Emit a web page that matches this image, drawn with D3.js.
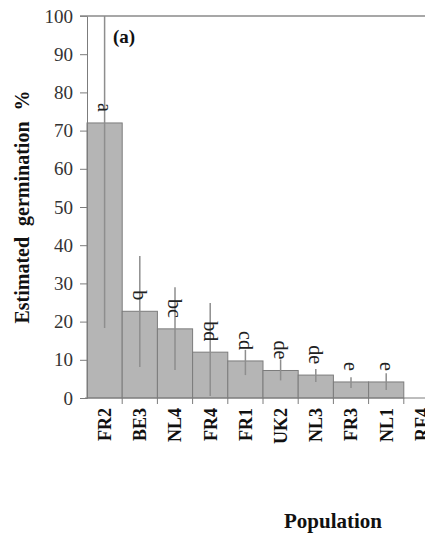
<!DOCTYPE html>
<html>
<head>
<meta charset="utf-8">
<script src="https://cdn.jsdelivr.net/npm/d3@7/dist/d3.min.js"></script>
<style>
  html, body { margin: 0; padding: 0; background: #fff; }
  svg { display: block; }
</style>
</head>
<body>
<svg id="chart" width="425" height="533"></svg>
<script>
// Estimated germination per population, with error bars and significance letters
const populations = ["FR2", "BE3", "NL4", "FR4", "FR1", "UK2", "NL3", "FR3", "NL1", "RF4"];
const germination = [72.0, 22.7, 18.1, 12.0, 9.7, 7.2, 6.0, 4.2, 4.2, 0];
const errLow      = [18.3, 8.1, 7.3, 0.5, 6.0, 4.6, 4.2, 2.6, 2.1, 0];
const errHigh     = [100, 37.2, 29.0, 24.9, 12.6, 10.1, 7.6, 5.4, 6.5, 0];
const groupLetters = ["a", "b", "bc", "bd", "cd", "de", "de", "e", "e", ""];
const yTicks = [0, 10, 20, 30, 40, 50, 60, 70, 80, 90, 100];

const svg = d3.select("#chart");
const W = 425;
const serif = "'Liberation Serif', 'Times New Roman', serif";

const y = d3.scaleLinear().domain([0, 100]).range([398, 16]);
const x = d3.scaleBand().domain(populations).range([87, 439]).padding(0);

const rows = populations.map((p, i) => ({
  pop: p, v: germination[i], lo: errLow[i], hi: errHigh[i], letter: groupLetters[i]
}));

// bars
svg.append("g").selectAll("rect").data(rows.filter(d => d.v > 0)).join("rect")
  .attr("x", d => x(d.pop))
  .attr("y", d => y(d.v))
  .attr("width", x.bandwidth())
  .attr("height", d => y(0) - y(d.v))
  .attr("fill", "#b5b5b5")
  .attr("stroke", "#7c7c7c")
  .attr("stroke-width", 1);

// error bars (no caps)
svg.append("g").selectAll("line").data(rows.filter(d => d.hi > d.lo)).join("line")
  .attr("x1", d => x(d.pop) + x.bandwidth() / 2)
  .attr("x2", d => x(d.pop) + x.bandwidth() / 2)
  .attr("y1", d => y(d.hi))
  .attr("y2", d => y(d.lo))
  .attr("stroke", "#8e8e8e")
  .attr("stroke-width", 1.5);

// significance letters, reading downward
svg.append("g").selectAll("text").data(rows.filter(d => d.letter)).join("text")
  .attr("transform", d => `translate(${x(d.pop) + x.bandwidth() / 2},${y(d.v) - 11}) rotate(90)`)
  .attr("text-anchor", "end")
  .attr("dy", "0.33em")
  .attr("font-family", serif)
  .attr("font-size", 20)
  .attr("fill", "#222")
  .text(d => d.letter);

// y axis
const yAxis = svg.append("g")
  .attr("transform", "translate(87,0)")
  .call(d3.axisLeft(y).tickValues(yTicks).tickSize(7).tickPadding(7));
yAxis.select(".domain").attr("stroke", "#7c7c7c");
yAxis.selectAll(".tick line").attr("stroke", "#7c7c7c");
yAxis.selectAll(".tick text")
  .attr("font-family", serif)
  .attr("font-size", 19)
  .attr("fill", "#333");

// top frame line
svg.append("line")
  .attr("x1", 80).attr("x2", W)
  .attr("y1", y(100)).attr("y2", y(100))
  .attr("stroke", "#8a8a8a").attr("stroke-width", 1.5);

// x axis
const xAxis = svg.append("g")
  .attr("transform", `translate(0,${y(0)})`)
  .call(d3.axisBottom(x).tickSize(0).tickFormat(""));
xAxis.select(".domain").attr("stroke", "#7c7c7c").attr("d", `M85,0H${W}`);
xAxis.selectAll(".tick").remove();

// category separators below the axis
svg.append("g").selectAll("line").data(populations).join("line")
  .attr("x1", d => x(d) + x.bandwidth())
  .attr("x2", d => x(d) + x.bandwidth())
  .attr("y1", y(0))
  .attr("y2", y(0) + 6)
  .attr("stroke", "#7c7c7c");

// category labels, reading upward (the last one runs past the right edge)
svg.append("g").selectAll("text").data(populations).join("text")
  .attr("transform", d => `translate(${x(d) + x.bandwidth() / 2},408) rotate(-90)`)
  .attr("text-anchor", "end")
  .attr("dy", "0.35em")
  .attr("font-family", serif)
  .attr("font-weight", "bold")
  .attr("font-size", 18)
  .attr("fill", "#111")
  .text(d => d);

// panel tag
svg.append("text")
  .attr("x", 113).attr("y", 43)
  .attr("font-family", serif)
  .attr("font-weight", "bold")
  .attr("font-size", 19)
  .attr("fill", "#111")
  .text("(a)");

// axis titles
svg.append("text")
  .attr("transform", "translate(29,207) rotate(-90)")
  .attr("text-anchor", "middle")
  .attr("font-family", serif)
  .attr("font-weight", "bold")
  .attr("font-size", 20)
  .attr("word-spacing", 6)
  .attr("fill", "#111")
  .text("Estimated germination %");

svg.append("text")
  .attr("x", 333).attr("y", 528)
  .attr("text-anchor", "middle")
  .attr("font-family", serif)
  .attr("font-weight", "bold")
  .attr("font-size", 21)
  .attr("fill", "#111")
  .text("Population");
</script>
</body>
</html>
